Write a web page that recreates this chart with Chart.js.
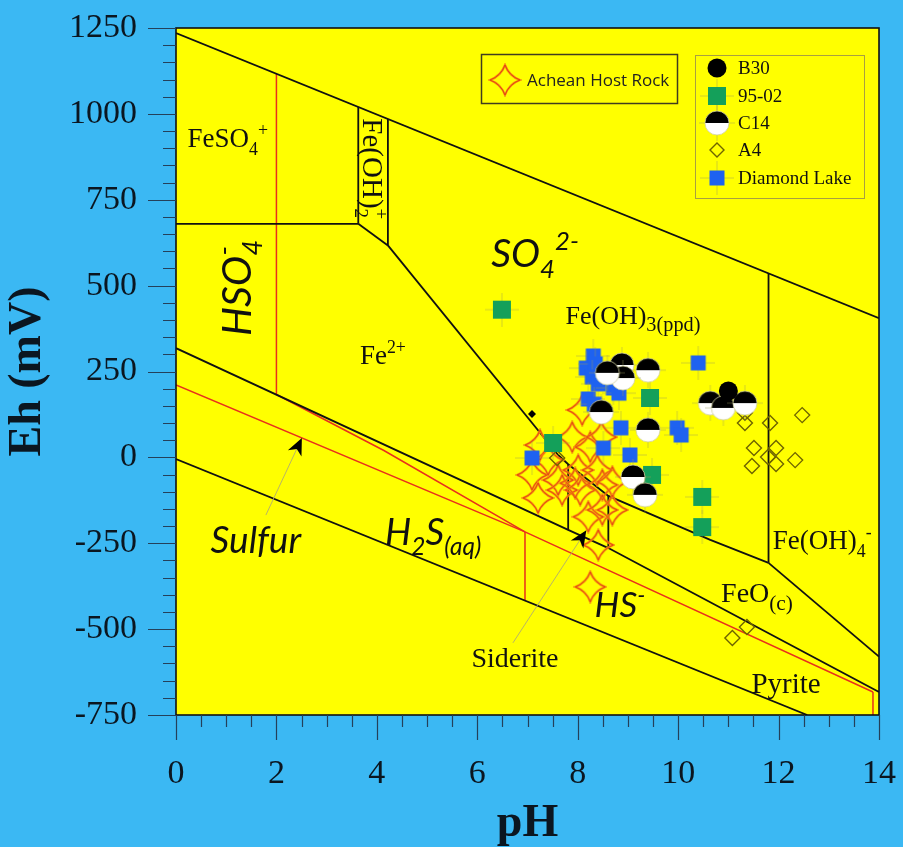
<!DOCTYPE html>
<html>
<head>
<meta charset="utf-8">
<script src="https://cdn.jsdelivr.net/npm/chart.js@4.4.1/dist/chart.umd.min.js"></script>
<style>
  html, body { margin: 0; padding: 0; background: #3bb8f3; }
  canvas { display: block; }
</style>
</head>
<body>
<canvas id="chart" width="903" height="847"></canvas>
<script>
// axis ticks
const xTicks = [0, 2, 4, 6, 8, 10, 12, 14];
const yTicks = [-750, -500, -250, 0, 250, 500, 750, 1000, 1250];

// sample series (pH, Eh in mV)
const b30PH = [11.0];
const b30Eh = [193];
const s9502PH = [6.49, 7.51, 9.44, 9.48, 10.48, 10.48];
const s9502Eh = [430, 42, 173, -51, -115, -203];
const c14PH = [8.88, 9.40, 8.90, 8.59, 8.47, 9.40, 9.10, 9.34, 10.64, 10.90, 11.33];
const c14Eh = [269, 254, 231, 246, 132, 80, -57, -109, 158, 144, 158];
const a4PH = [11.33, 11.33, 11.83, 12.47, 11.51, 11.95, 11.79, 11.95, 12.33, 11.47, 11.08, 11.37, 7.59];
const a4Eh = [130, 100, 100, 123, 27, 27, 1, -19, -8, -25, -526, -494, -2];
const dlPH = [8.31, 8.17, 8.35, 8.29, 8.41, 8.71, 8.82, 8.21, 8.33, 8.86, 8.51, 9.04, 7.09, 10.40, 9.98, 10.06];
const dlEh = [295, 260, 272, 234, 214, 202, 187, 170, 155, 86, 27, 7, -2, 275, 86, 65];
const hostPH = [8.09, 7.25, 7.89, 8.25, 8.47, 7.09, 7.61, 8.01, 8.39, 7.21, 7.69, 8.05, 8.49, 8.69, 8.21, 8.49, 8.41, 8.25, 7.95, 7.41, 8.69];
const hostEh = [138, 36, 59, 30, 59, -51, -66, -37, -37, -118, -95, -95, -80, -71, -173, -153, -255, -377, -75, -8, -153];
const smallPH = [7.09];
const smallEh = [126];

// stability field boundaries [pH, Eh]
const upperWater = [[0, 1235], [14, 405]];
const lowerWater = [[0, -5], [12.57, -750]];
const pyriteTop  = [[0, 318], [7.81, -211], [8.61, -264], [14, -683]];
const feSO4Horiz = [[0, 680], [3.63, 680]];
const feOH2Left  = [[3.63, 1020], [3.63, 680]];
const feOH2Right = [[4.22, 985], [4.22, 617]];
const feOH2Base  = [[3.63, 680], [4.22, 617]];
const fe2FeOH3   = [[4.22, 617], [7.61, 7]];
const feOH3Lower = [[7.61, 7], [7.81, -20], [8.61, -112], [10.64, -240], [11.8, -307]];
const sideriteL  = [[7.81, -20], [7.81, -211]];
const sideriteR  = [[8.61, -112], [8.61, -264]];
const feOH4Vert  = [[11.8, 536], [11.8, -307]];
const feOFeOH4   = [[11.8, -307], [14, -580]];
// sulfur species (red)
const sulfurH2S  = [[0, 211], [6.95, -217], [13.88, -683]];
const hso4H2S    = [[2, 183], [4.14, 20], [6.95, -217]];
const hso4Vert   = [[2, 1116], [2, 183]];
const h2sHSVert  = [[6.95, -217], [6.95, -417]];
const hsEdgeVert = [[13.88, -683], [13.88, -750]];
// leader lines to arrows
const sulfurLeader   = [[1.79, -168], [2.49, 51]];
const sideriteLeader = [[6.71, -540], [8.15, -217]];

// field labels: [segments], position in data units
const labels = [
  { segs: [['FeSO', 'n'], ['4', 'sub'], ['+', 'sup']], pH: 1.03, eh: 930, size: 27, family: 'Liberation Serif' },
  { segs: [['Fe(OH)', 'n'], ['2', 'sub'], ['+', 'supb']], pH: 3.92, eh: 840, size: 29, family: 'Liberation Serif', rot: 90 },
  { segs: [['HSO', 'n'], ['4', 'sub'], ['-', 'supb']], pH: 1.20, eh: 493, size: 41, family: 'Lato', style: 'italic', rot: -90 },
  { segs: [['Fe', 'n'], ['2+', 'sup']], pH: 4.12, eh: 298, size: 27, family: 'Liberation Serif' },
  { segs: [['SO', 'n'], ['4', 'sub'], ['2-', 'sup']], pH: 7.15, eh: 595, size: 39, family: 'Lato', style: 'italic' },
  { segs: [['Fe(OH)', 'n'], ['3(ppd)', 'sub']], pH: 9.10, eh: 415, size: 26, subScale: 0.78, family: 'Liberation Serif' },
  { segs: [['Sulfur', 'n']], pH: 1.59, eh: -240, size: 37, family: 'Lato', style: 'italic' },
  { segs: [['H', 'n'], ['2', 'sub'], ['S', 'n'], ['(aq)', 'sub']], pH: 5.12, eh: -217, size: 37, family: 'Lato', style: 'italic' },
  { segs: [['HS', 'n'], ['-', 'sup']], pH: 8.84, eh: -430, size: 35, family: 'Lato', style: 'italic' },
  { segs: [['Siderite', 'n']], pH: 6.75, eh: -581, size: 28, family: 'Liberation Serif' },
  { segs: [['FeO', 'n'], ['(c)', 'sub']], pH: 11.57, eh: -392, size: 28, subScale: 0.76, family: 'Liberation Serif' },
  { segs: [['Pyrite', 'n']], pH: 12.15, eh: -657, size: 29, family: 'Liberation Serif' },
  { segs: [['Fe(OH)', 'n'], ['4', 'sub'], ['-', 'sup']], pH: 12.87, eh: -240, size: 27, family: 'Liberation Serif' }
];

const BLUE = '#1e62f0';
const GREEN = '#14a05a';

function makeCanvas(w, h, draw) {
  const c = document.createElement('canvas');
  c.width = w; c.height = h;
  draw(c.getContext('2d'), w, h);
  return c;
}
function hairs(g, w, h) {
  g.strokeStyle = 'rgba(150,150,90,0.45)';
  g.lineWidth = 1;
  g.beginPath();
  g.moveTo(w / 2, 0); g.lineTo(w / 2, h);
  g.moveTo(0, h / 2); g.lineTo(w, h / 2);
  g.stroke();
}

const starImg = makeCanvas(34, 34, (g) => {
  const c = 17, r = 15, k = 4;
  g.beginPath();
  g.moveTo(c, c - r);
  g.quadraticCurveTo(c + k, c - k, c + r, c);
  g.quadraticCurveTo(c + k, c + k, c, c + r);
  g.quadraticCurveTo(c - k, c + k, c - r, c);
  g.quadraticCurveTo(c - k, c - k, c, c - r);
  g.closePath();
  g.lineWidth = 2.2; g.strokeStyle = '#f59010'; g.stroke();
  g.lineWidth = 0.8; g.strokeStyle = '#e03010'; g.stroke();
});
const c14Img = makeCanvas(36, 36, (g, w, h) => {
  hairs(g, w, h);
  g.beginPath(); g.arc(18, 18, 12, Math.PI, 0); g.closePath(); g.fillStyle = '#000'; g.fill();
  g.beginPath(); g.arc(18, 18, 12, 0, Math.PI); g.closePath(); g.fillStyle = '#fff'; g.fill();
  g.beginPath(); g.arc(18, 18, 12, 0, 2 * Math.PI); g.strokeStyle = '#d0d0a0'; g.lineWidth = 0.8; g.stroke();
});
const blueImg = makeCanvas(34, 34, (g, w, h) => {
  hairs(g, w, h);
  g.fillStyle = BLUE; g.fillRect(9.5, 9.5, 15, 15);
});
const greenImg = makeCanvas(34, 34, (g, w, h) => {
  hairs(g, w, h);
  g.fillStyle = GREEN; g.fillRect(8, 8, 18, 18);
});

function pts(px, eh) { return px.map((v, i) => ({ x: v, y: eh[i] })); }
function seg(arr) { return arr.map(p => ({ x: p[0], y: p[1] })); }

function lineSet(arr, color, width, extra) {
  return Object.assign({
    data: seg(arr), showLine: true, pointRadius: 0, borderColor: color,
    borderWidth: width, fill: false, tension: 0
  }, extra || {});
}

const datasets = [
  { label: 'B30', data: pts(b30PH, b30Eh), pointStyle: 'circle', pointRadius: 9.5, backgroundColor: '#000', borderColor: '#000', borderWidth: 0 },
  { label: 'C14', data: pts(c14PH, c14Eh), pointStyle: c14Img, pointRadius: 12 },
  { label: 'Diamond Lake', data: pts(dlPH, dlEh), pointStyle: blueImg, pointRadius: 8 },
  { label: '95-02', data: pts(s9502PH, s9502Eh), pointStyle: greenImg, pointRadius: 9 },
  { label: 'A4', data: pts(a4PH, a4Eh), pointStyle: 'rectRot', pointRadius: 7.5, backgroundColor: 'rgba(0,0,0,0)', borderColor: '#6e6400', borderWidth: 1.4 },
  { label: 'Achean Host Rock', data: pts(hostPH, hostEh), pointStyle: starImg, pointRadius: 15 },
  { label: 'mark', data: pts(smallPH, smallEh), pointStyle: 'rectRot', pointRadius: 4, backgroundColor: '#000', borderColor: '#000', borderWidth: 0 },
  lineSet(sulfurLeader, '#b0ac70', 0.9, { arrow: true }),
  lineSet(sideriteLeader, '#b0ac70', 0.9, { arrow: true }),
  lineSet(upperWater, '#111', 1.8),
  lineSet(lowerWater, '#111', 1.8),
  lineSet(pyriteTop, '#111', 1.8),
  lineSet(feSO4Horiz, '#111', 1.8),
  lineSet(feOH2Left, '#111', 1.8),
  lineSet(feOH2Right, '#111', 1.8),
  lineSet(feOH2Base, '#111', 1.8),
  lineSet(fe2FeOH3, '#111', 1.8),
  lineSet(feOH3Lower, '#111', 1.8),
  lineSet(sideriteL, '#111', 1.8),
  lineSet(sideriteR, '#111', 1.8),
  lineSet(feOH4Vert, '#111', 1.8),
  lineSet(feOFeOH4, '#111', 1.8),
  lineSet(sulfurH2S, '#e8301c', 1.5),
  lineSet(hso4H2S, '#e8301c', 1.5),
  lineSet(hso4Vert, '#e8301c', 1.5),
  lineSet(h2sHSVert, '#e8301c', 1.5),
  lineSet(hsEdgeVert, '#e8301c', 1.5)
];

// blue page + yellow plot area
const backdrop = {
  id: 'backdrop',
  beforeDraw(chart) {
    const { ctx, chartArea: a } = chart;
    ctx.save();
    ctx.fillStyle = '#3bb8f3';
    ctx.fillRect(0, 0, chart.width, chart.height);
    ctx.fillStyle = '#ffff00';
    ctx.fillRect(a.left, a.top, a.right - a.left, a.bottom - a.top);
    ctx.restore();
  },
  afterDatasetsDraw(chart) {
    const { ctx, chartArea: a } = chart;
    ctx.save();
    ctx.strokeStyle = '#111';
    ctx.lineWidth = 1.6;
    ctx.strokeRect(a.left, a.top, a.right - a.left, a.bottom - a.top);
    ctx.restore();
  }
};

// outward major/minor tick marks
const tickMarks = {
  id: 'tickMarks',
  afterDraw(chart) {
    const { ctx, chartArea: a, scales: { x, y } } = chart;
    ctx.save();
    ctx.strokeStyle = '#24405a';
    ctx.lineWidth = 1.2;
    ctx.beginPath();
    for (let v = -750; v <= 1250; v += 50) {
      const py = Math.round(y.getPixelForValue(v)) + 0.5;
      const len = (v % 250 === 0) ? 28 : 13;
      ctx.moveTo(a.left - len, py); ctx.lineTo(a.left, py);
    }
    for (let v = 0; v <= 14; v += 0.5) {
      const px = Math.round(x.getPixelForValue(v)) + 0.5;
      const len = (v % 2 === 0) ? 25 : 12;
      ctx.moveTo(px, a.bottom); ctx.lineTo(px, a.bottom + len);
    }
    ctx.stroke();
    ctx.restore();
  }
};

// arrowheads at the end of leader lines
const arrows = {
  id: 'arrows',
  afterDatasetsDraw(chart) {
    const ctx = chart.ctx;
    chart.data.datasets.forEach((ds, i) => {
      if (!ds.arrow) return;
      const el = chart.getDatasetMeta(i).data;
      const p0 = el[el.length - 2], p1 = el[el.length - 1];
      const ang = Math.atan2(p1.y - p0.y, p1.x - p0.x);
      ctx.save();
      ctx.translate(p1.x, p1.y);
      ctx.rotate(ang);
      ctx.fillStyle = '#000';
      ctx.beginPath();
      ctx.moveTo(2, 0);
      ctx.lineTo(-15, -7.5);
      ctx.lineTo(-10, 0);
      ctx.lineTo(-15, 7.5);
      ctx.closePath();
      ctx.fill();
      ctx.restore();
    });
  }
};

function drawLabel(ctx, lab, px, py) {
  const items = [];
  const sub = lab.subScale || 0.66;
  let x = 0, prevStart = 0;
  lab.segs.forEach(([t, m]) => {
    const size = m === 'n' ? lab.size : lab.size * sub;
    const dy = m === 'sub' ? lab.size * 0.28 : (m === 'n' ? 0 : -lab.size * 0.42);
    const font = (lab.style || 'normal') + ' ' + size + 'px "' + lab.family + '"';
    ctx.font = font;
    const w = ctx.measureText(t).width;
    let sx = x;
    if (m === 'supb') { sx = prevStart; x = Math.max(x, prevStart + w); }
    else { prevStart = x; x += w; }
    items.push({ t, sx, dy, font });
  });
  ctx.save();
  ctx.translate(px, py);
  if (lab.rot) ctx.rotate(lab.rot * Math.PI / 180);
  ctx.fillStyle = '#111';
  ctx.textBaseline = 'alphabetic';
  ctx.textAlign = 'left';
  items.forEach(it => {
    ctx.font = it.font;
    ctx.fillText(it.t, it.sx - x / 2, it.dy + lab.size * 0.35);
  });
  ctx.restore();
}

const fieldLabels = {
  id: 'fieldLabels',
  afterDatasetsDraw(chart) {
    const { ctx, scales: { x, y } } = chart;
    labels.forEach(lab => drawLabel(ctx, lab, x.getPixelForValue(lab.pH), y.getPixelForValue(lab.eh)));
  }
};

// the two legend boxes
const legendBoxes = {
  id: 'legendBoxes',
  afterDraw(chart) {
    const ctx = chart.ctx;
    ctx.save();
    ctx.strokeStyle = '#403c20';
    ctx.lineWidth = 1.5;
    ctx.strokeRect(481.5, 54.5, 196, 49);
    ctx.drawImage(starImg, 505 - 17, 80 - 17);
    ctx.fillStyle = '#222';
    ctx.font = '17px "Open Sans"';
    ctx.textBaseline = 'middle';
    ctx.fillText('Achean Host Rock', 527, 81);

    ctx.strokeStyle = '#a8a040';
    ctx.lineWidth = 1;
    ctx.strokeRect(695.5, 55.5, 169, 143);
    const rows = [68, 96, 123, 150, 178];
    const cx = 717;
    ctx.fillStyle = '#000';
    ctx.beginPath(); ctx.arc(cx, rows[0], 9.5, 0, 2 * Math.PI); ctx.fill();
    ctx.drawImage(greenImg, cx - 17, rows[1] - 17);
    ctx.drawImage(c14Img, cx - 18, rows[2] - 18);
    ctx.strokeStyle = '#6e6400'; ctx.lineWidth = 1.4;
    ctx.beginPath();
    ctx.moveTo(cx, rows[3] - 7); ctx.lineTo(cx + 7, rows[3]); ctx.lineTo(cx, rows[3] + 7); ctx.lineTo(cx - 7, rows[3]);
    ctx.closePath(); ctx.stroke();
    ctx.drawImage(blueImg, cx - 17, rows[4] - 17);
    ctx.fillStyle = '#111';
    ctx.font = '19px "Liberation Serif"';
    ['B30', '95-02', 'C14', 'A4', 'Diamond Lake'].forEach((t, i) => ctx.fillText(t, 738, rows[i] + 1));
    ctx.restore();
  }
};

new Chart(document.getElementById('chart'), {
  type: 'scatter',
  data: { datasets },
  options: {
    responsive: false,
    animation: false,
    layout: { autoPadding: false, padding: { left: 0, right: 24, top: 28, bottom: 0 } },
    plugins: { legend: { display: false }, tooltip: { enabled: false } },
    scales: {
      x: {
        type: 'linear', min: 0, max: 14,
        afterBuildTicks: s => { s.ticks = xTicks.map(v => ({ value: v })); },
        grid: { display: false, drawTicks: true, tickLength: 39 },
        border: { display: false },
        ticks: { font: { family: 'Liberation Serif', size: 34 }, color: '#0b1620', padding: 0, maxRotation: 0 },
        title: { display: true, text: 'pH', color: '#0b1620', font: { family: 'Liberation Serif', size: 46, weight: 'bold', lineHeight: 1.0 }, padding: { top: 0, bottom: 0 } },
        afterFit: s => { s.height = 132; }
      },
      y: {
        type: 'linear', min: -750, max: 1250,
        afterBuildTicks: s => { s.ticks = yTicks.map(v => ({ value: v })); },
        grid: { display: false, drawTicks: true, tickLength: 39 },
        border: { display: false },
        ticks: { font: { family: 'Liberation Serif', size: 34 }, color: '#0b1620', padding: 0, callback: v => String(v) },
        title: { display: true, text: 'Eh (mV)', color: '#0b1620', font: { family: 'Liberation Serif', size: 46, weight: 'bold', lineHeight: 1.0 }, padding: { top: 5, bottom: 0 } },
        afterFit: s => { s.width = 176; }
      }
    }
  },
  plugins: [backdrop, tickMarks, arrows, fieldLabels, legendBoxes]
});
</script>
</body>
</html>
